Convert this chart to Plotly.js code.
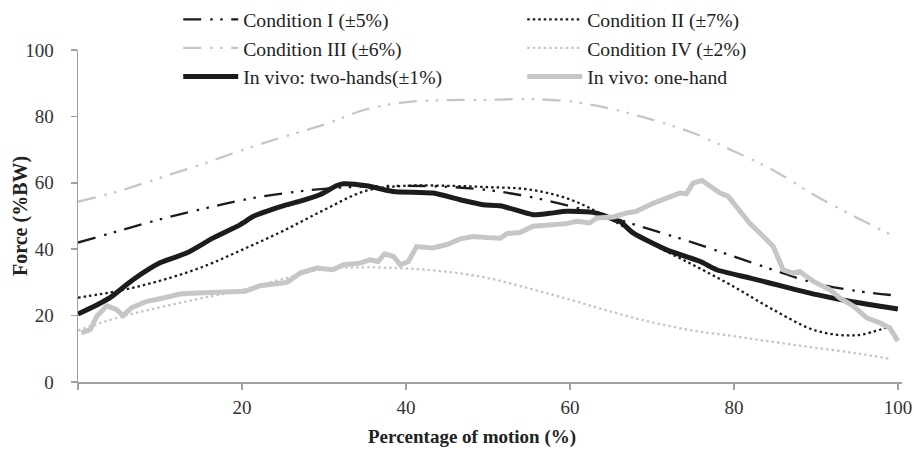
<!DOCTYPE html>
<html>
<head>
<meta charset="utf-8">
<script src="https://cdn.plot.ly/plotly-3.0.1.min.js"></script>
<style>html,body{margin:0;padding:0;background:#fff;}#chart{width:914px;height:453px;}</style>
</head>
<body>
<div id="chart"></div>
<script>
// Smooth model curves (x in % of motion)
const condX = [0,5,10,15,20,25,30,35,40,45,50,55,60,65,70,75,80,85,90,95,99];
const condI_X = [0,5,10,15,20,25,30,35,40,45,50,55,60,65,70,75,80,85,90,95,100];
const condI   = [42,45.5,49,52,54.8,56.8,58.2,58.9,59.1,58.8,57.8,55.8,53,49.6,45.8,42,37.8,33.6,29.7,27.4,26];
const condII  = [25.4,27.5,30.5,34.5,39.8,45.5,51.8,57.5,59.1,59.1,58.7,58,55,49,41.6,35.3,28.7,21.5,15.5,14.1,16.8];
const condIII = [54.3,57.5,61.5,65.5,69.8,73.8,77.5,82,84.3,84.9,85,85.2,84.5,82.3,79,75,69.5,63.5,56,49.5,44.5];
const condIV  = [15.5,19.5,22.5,25.2,27.8,31,34,34.5,34.2,33.2,31.3,28.2,24.8,21.2,18,15.5,13.8,12,10.3,8.6,7];

// In vivo: two-hands
const twoX = [0,2,3.9,6.7,10,13.3,16.5,19.8,21.4,23,25.5,27,29.5,31.5,32.4,35.2,38.4,43.3,46.6,49.4,51.5,55.5,57.5,59.6,62.8,64,65.7,66.1,67.7,71.8,75.9,77.9,82,86,90.1,94.1,100];
const twoY = [20.5,22.8,25.4,30.8,35.9,38.9,43.4,47.4,49.9,51.4,53.4,54.4,56.4,59.1,59.7,59.1,57.4,56.9,54.9,53.4,53.1,50.4,50.8,51.4,51.1,50.3,48.6,48.4,44.9,39.8,36.3,33.8,31.3,28.8,26.3,24.3,22];

// In vivo: one-hand
const oneX = [0.4,1.5,2.3,3.5,4.7,5.5,6.5,8.4,10.4,12.4,14.5,16.5,18.5,20.4,22.2,25.5,27.1,29.1,31.1,32.4,34.4,35.6,36.6,37.4,38.5,39.3,40.3,41.3,43.3,45,46.6,48.2,49.8,51.5,52.3,53.9,55.5,57.6,59.6,60.8,62.4,63.3,65.3,66.9,68.1,70.2,71.8,73.4,74.2,75,76.1,77.1,78.3,79.3,80.3,81.9,83.6,84.8,86,87.2,88,89.7,91.7,92.9,94.6,96.2,97.8,99,100];
const oneY = [14.8,15.8,19.8,23,21.8,20,22.3,24.3,25.3,26.5,26.8,27,27,27.3,29,30,32.8,34.3,33.8,35.3,35.8,36.8,36.3,38.6,37.8,35.3,36.3,40.8,40.4,41.4,43.1,43.8,43.5,43.3,44.7,45,46.9,47.2,47.7,48.4,47.9,49.4,49.7,50.9,51.4,53.9,55.4,56.9,56.7,59.9,60.7,58.9,56.9,55.9,52.9,47.9,43.8,40.8,33.8,32.8,33.3,30.3,27.8,25.3,22.8,19.3,17.8,16.3,12.3];

const xTickVals = [0,20,40,60,80,100];
const xTickText = ['', '20', '40', '60', '80', '100'];
const yTickVals = [0,20,40,60,80,100];

const names = ['Condition I (±5%)','Condition II (±7%)','Condition III (±6%)','Condition IV (±2%)','In vivo: two-hands(±1%)','In vivo: one-hand'];
const xTitle = 'Percentage of motion (%)';
const yTitle = 'Force (%BW)';

const FONT = "'Liberation Serif', 'Times New Roman', serif";
const BLACK = '#1c1c1c';
const GRAY = '#c6c6c6';
const DASHDOTDOT = '18px,9px,2.5px,7.5px,2.5px,8.5px';
const DOTTED = '2.5px,3px';

const traces = [
  {x: condI_X, y: condI, name: names[0], mode: 'lines', line: {color: BLACK, width: 2.3, dash: DASHDOTDOT, shape: 'spline'}},
  {x: condX, y: condII, name: names[1], mode: 'lines', line: {color: BLACK, width: 2.3, dash: DOTTED, shape: 'spline'}},
  {x: condX, y: condIII, name: names[2], mode: 'lines', line: {color: GRAY, width: 2.3, dash: DASHDOTDOT, shape: 'spline'}},
  {x: condX, y: condIV, name: names[3], mode: 'lines', line: {color: GRAY, width: 2.3, dash: DOTTED, shape: 'spline'}},
  {x: twoX, y: twoY, name: names[4], mode: 'lines', line: {color: BLACK, width: 5, shape: 'spline', smoothing: 0.6}},
  {x: oneX, y: oneY, name: names[5], mode: 'lines', line: {color: GRAY, width: 5}}
];

const layout = {
  width: 914, height: 453,
  margin: {l: 78, r: 12, t: 50, b: 71, autoexpand: false},
  paper_bgcolor: '#fff', plot_bgcolor: '#fff',
  font: {family: FONT, color: '#222', size: 19},
  showlegend: true,
  legend: {
    orientation: 'h', xref: 'container', yref: 'container', x: 0.195, y: 1.0, xanchor: 'left', yanchor: 'top',
    entrywidth: 274, entrywidthmode: 'pixels', itemwidth: 55,
    font: {family: FONT, size: 19.7, color: '#222'}, bgcolor: 'rgba(0,0,0,0)', traceorder: 'normal', tracegroupgap: 0
  },
  xaxis: {
    range: [0, 100.5], tickmode: 'array', tickvals: xTickVals, ticktext: xTickText,
    showgrid: false, zeroline: false, showline: true, linecolor: '#a0a0a0', linewidth: 1.5,
    ticks: 'outside', ticklen: 6, tickcolor: '#a0a0a0', tickwidth: 1.5,
    tickfont: {family: FONT, size: 19, color: '#333'}, ticklabelstandoff: 2
  },
  yaxis: {
    range: [0, 100], tickmode: 'array', tickvals: yTickVals,
    showgrid: false, zeroline: false, showline: true, linecolor: '#a0a0a0', linewidth: 1.5,
    ticks: 'outside', ticklen: 6, tickcolor: '#a0a0a0', tickwidth: 1.5,
    tickfont: {family: FONT, size: 19, color: '#333'}, ticklabelstandoff: 13
  },
  annotations: [
    {text: '<b>' + xTitle + '</b>', xref: 'paper', yref: 'paper', x: 0.478, y: -0.166, xanchor: 'center', yanchor: 'middle', showarrow: false,
     font: {family: FONT, size: 19, color: '#222'}},
    {text: '<b>' + yTitle + '</b>', xref: 'paper', yref: 'paper', x: -0.0704, y: 0.5, xanchor: 'center', yanchor: 'middle', textangle: -90, showarrow: false,
     font: {family: FONT, size: 20, color: '#222'}}
  ]
};

Plotly.newPlot('chart', traces, layout, {displayModeBar: false, staticPlot: true});
</script>
</body>
</html>
